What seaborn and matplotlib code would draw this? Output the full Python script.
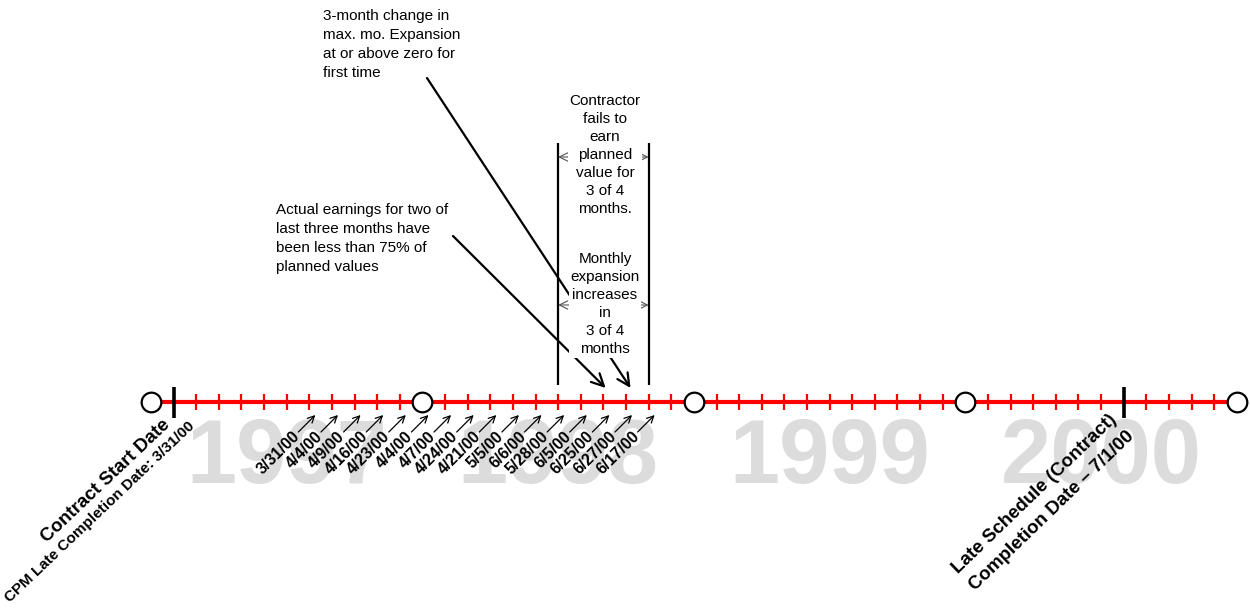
import numpy as np
import pandas as pd
import seaborn as sns
import matplotlib.pyplot as plt

# data
years = ["1997", "1998", "1999", "2000"]
year_starts = [0, 12, 24, 36, 48]          # months from start of 1997
month_ticks = [m for m in range(1, 48) if m % 12 != 0]
start_month = 1      # contract start
late_month = 43      # late schedule completion
date_labels = ["3/31/00", "4/4/00", "4/9/00", "4/16/00", "4/23/00", "4/4/00",
               "4/7/00", "4/24/00", "4/21/00", "5/5/00", "6/6/00", "5/28/00",
               "6/5/00", "6/25/00", "6/27/00", "6/17/00"]
date_months = list(range(7, 23))
window = [18, 22]    # 3 of 4 months window
flag_targets = [20.1, 21.2]

sns.set_theme(style="white")
plt.rcParams["font.family"] = ["Liberation Sans", "DejaVu Sans"]
plt.rcParams["text.color"] = "black"

PPM = 22.62   # pixels per month
X0 = 151


def px(x):
    # pixel x -> month coordinate (layout helper)
    return (x - X0) / PPM


fig = plt.figure(figsize=(12.5, 6.11), dpi=100)
ax = fig.add_axes([0, 0, 1, 1])
ax.set_xlim(px(0), px(1250))
ax.set_ylim(611, 0)
ax.axis("off")

LINE_Y = 402

# timeline
line_df = pd.DataFrame({"month": [year_starts[0], year_starts[-1]], "y": [LINE_Y, LINE_Y]})
sns.lineplot(data=line_df, x="month", y="y", color="#ff0000", lw=3, ax=ax, zorder=2)
ax.vlines(month_ticks, LINE_Y - 8, LINE_Y + 8, color="#ff0000", lw=1.6, zorder=2)
ax.vlines([start_month, late_month], LINE_Y - 15, LINE_Y + 16, color="black", lw=2.6, zorder=3)
circ_df = pd.DataFrame({"month": year_starts, "y": [LINE_Y] * len(year_starts)})
sns.scatterplot(data=circ_df, x="month", y="y", s=200, color="white",
                edgecolor="black", linewidth=1.6, ax=ax, zorder=4)

# big year labels
for i, yr in enumerate(years):
    ax.text((year_starts[i] + year_starts[i + 1]) / 2, 483, yr, ha="center",
            va="baseline", fontsize=65, fontweight="bold", color="#dcdcdc", zorder=0)

# date labels with arrows
for m, lab in zip(date_months, date_labels):
    tip = (m + 6 / PPM, 415)
    base = (m - 11 / PPM, 432)
    ax.annotate("", xy=tip, xytext=base,
                arrowprops=dict(arrowstyle="->", color="black", lw=0.9,
                                shrinkA=0, shrinkB=0, mutation_scale=12))
    ax.text(m - 12 / PPM, 434, lab, rotation=45, rotation_mode="anchor",
            ha="right", va="center", fontsize=11.5, fontweight="bold", zorder=3)

# start / late labels
ax.text(px(47), 543, "Contract Start Date", rotation=43.5, rotation_mode="anchor",
        ha="left", va="baseline", fontsize=13.5, fontweight="bold")
ax.text(px(10), 603, "CPM Late Completion Date: 3/31/00", rotation=43.5,
        rotation_mode="anchor", ha="left", va="baseline", fontsize=11, fontweight="bold")
ax.text(px(958), 574, "Late Schedule (Contract)", rotation=44, rotation_mode="anchor",
        ha="left", va="baseline", fontsize=13.5, fontweight="bold")
ax.text(px(975), 591, "Completion Date \u2013 7/1/00", rotation=44, rotation_mode="anchor",
        ha="left", va="baseline", fontsize=13.5, fontweight="bold")

# window lines
ax.vlines(window, 143, 385, color="black", lw=1.6, zorder=2)
for yy in [157, 305]:
    ax.annotate("", xy=(window[0], yy), xytext=(window[1], yy),
                arrowprops=dict(arrowstyle="<->", color="#555555", lw=0.8,
                                shrinkA=0, shrinkB=0, mutation_scale=15), zorder=2)

# flag annotations
ax.annotate("", xy=(flag_targets[0], 388), xytext=(px(453), 236),
            arrowprops=dict(arrowstyle="->", color="black", lw=1.6,
                            shrinkA=0, shrinkB=0, mutation_scale=22), zorder=2)
ax.annotate("", xy=(flag_targets[1], 388), xytext=(px(427), 78),
            arrowprops=dict(arrowstyle="->", color="black", lw=1.6,
                            shrinkA=0, shrinkB=0, mutation_scale=22), zorder=2)

ax.text(px(276), 203, "Actual earnings for two of\nlast three months have\nbeen less than 75% of\nplanned values",
        ha="left", va="top", fontsize=11, linespacing=1.46)
ax.text(px(323), 9, "3-month change in\nmax. mo. Expansion\nat or above zero for\nfirst time",
        ha="left", va="top", fontsize=11, linespacing=1.46)

box = dict(facecolor="white", edgecolor="none", pad=1)
ax.text(px(605), 94, "Contractor\nfails to\nearn\nplanned\nvalue for\n3 of 4\nmonths.",
        ha="center", va="top", fontsize=11, linespacing=1.37, bbox=box, zorder=5)
ax.text(px(605), 252, "Monthly\nexpansion\nincreases\nin\n3 of 4\nmonths",
        ha="center", va="top", fontsize=11, linespacing=1.37, bbox=box, zorder=5)

fig.savefig("out.png", dpi=100)
